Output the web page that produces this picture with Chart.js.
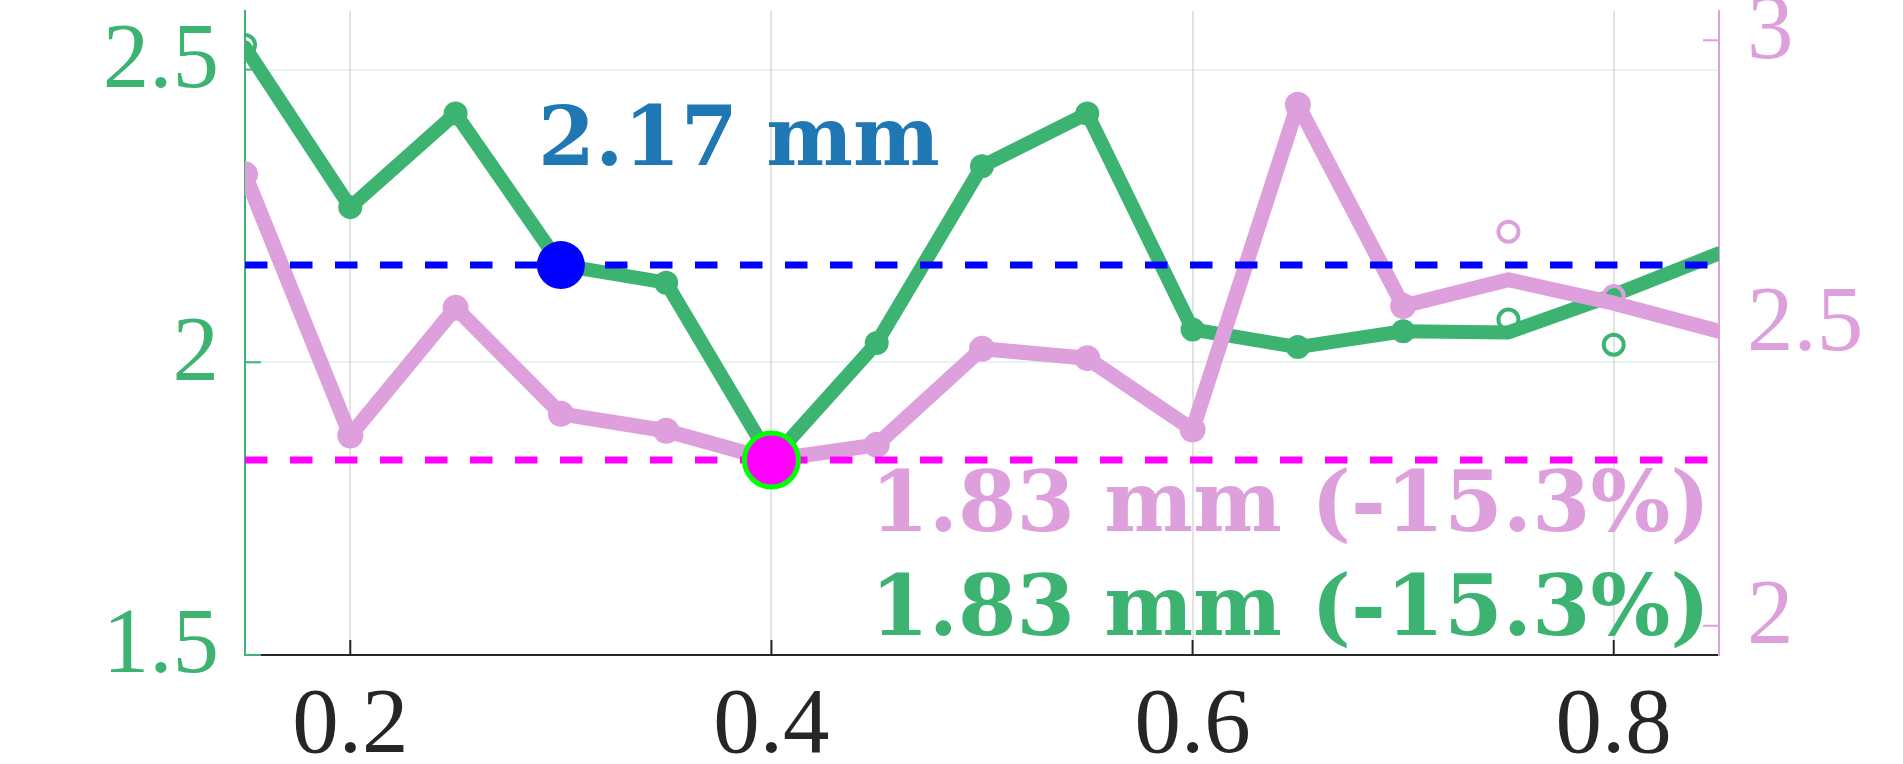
<!DOCTYPE html>
<html>
<head>
<meta charset="utf-8">
<script src="https://cdn.jsdelivr.net/npm/chart.js@4.4.1/dist/chart.umd.min.js"></script>
<style>
html,body{margin:0;padding:0;background:#fff;overflow:hidden}
#wrap{width:1903px;height:764px;position:relative}
canvas{display:block}
</style>
</head>
<body>
<div id="wrap"><canvas id="c" width="1903" height="764"></canvas></div>
<script>
// ---- data ----
const xValues     = [0.15, 0.20, 0.25, 0.30, 0.35, 0.40, 0.45, 0.50, 0.55, 0.60, 0.65, 0.70, 0.75, 0.80, 0.85];
const greenValues = [2.538, 2.265, 2.425, 2.166, 2.136, 1.833, 2.033, 2.335, 2.425, 2.056, 2.026, 2.053, 2.051, 2.115, 2.186];
const pinkValues  = [2.771, 2.325, 2.543, 2.362, 2.333, 2.283, 2.309, 2.473, 2.457, 2.335, 2.890, 2.546, 2.591, 2.551, 2.503];
const greenOpenX  = [0.15, 0.75, 0.80];
const greenOpenY  = [2.542, 2.073, 2.030];
const pinkOpenX   = [0.75, 0.80];
const pinkOpenY   = [2.673, 2.563];
const baselineX   = 0.30;
const baselineY   = 2.166;
const bestX       = 0.40;
const bestY       = 1.833;
const xTicks      = [0.2, 0.4, 0.6, 0.8];
const leftTicks   = [1.5, 2, 2.5];
const rightTicks  = [2, 2.5, 3];
const labelBaseline = '2.17 mm';
const labelPink     = '1.83 mm (-15.3%)';
const labelGreen    = '1.83 mm (-15.3%)';

const GREEN = '#3cb371', PINK = '#dda0dd', DARK = '#262626';
const xMin = 0.15, xMax = 0.85;

const toPts = (xs, ys) => xs.map((x, i) => ({x, y: ys[i]}));
const greenRadius = xValues.map((x, i) => (i >= 1 && i <= 11) ? 12 : 0);
const pinkRadius  = xValues.map((x, i) => (i <= 11) ? 13 : 0);

const tickFont = {family: '"Liberation Serif", serif', size: 93, lineHeight: 1};

const inwardTicks = {
  id: 'inwardTicks',
  beforeDatasetsDraw(chart) {
    const ctx = chart.ctx, a = chart.chartArea;
    const sx = chart.scales.x, sy = chart.scales.y, sy2 = chart.scales.y2;
    ctx.save();
    ctx.lineWidth = 2;
    ctx.strokeStyle = DARK;
    xTicks.forEach(v => { const p = sx.getPixelForValue(v); ctx.beginPath(); ctx.moveTo(p, a.bottom); ctx.lineTo(p, a.bottom - 15); ctx.stroke(); });
    ctx.strokeStyle = GREEN;
    leftTicks.forEach(v => { const p = sy.getPixelForValue(v); ctx.beginPath(); ctx.moveTo(a.left, p); ctx.lineTo(a.left + 16, p); ctx.stroke(); });
    ctx.strokeStyle = PINK;
    rightTicks.forEach(v => { const p = sy2.getPixelForValue(v); ctx.beginPath(); ctx.moveTo(a.right, p); ctx.lineTo(a.right - 16, p); ctx.stroke(); });
    ctx.restore();
  }
};

const texts = {
  id: 'texts',
  afterDatasetsDraw(chart) {
    const ctx = chart.ctx;
    ctx.save();
    ctx.textBaseline = 'alphabetic';
    ctx.font = 'bold 82px "DejaVu Serif", serif';
    ctx.textAlign = 'left';
    ctx.fillStyle = '#1f77b4';
    ctx.fillText(labelBaseline, 538, 165);
    ctx.font = 'bold 84px "DejaVu Serif", serif';
    ctx.textAlign = 'right';
    ctx.fillStyle = PINK;
    ctx.fillText(labelPink, 1710, 531);
    ctx.fillStyle = GREEN;
    ctx.fillText(labelGreen, 1710, 635);
    ctx.restore();
  }
};

function zeroPad(s) { s.paddingTop = 0; s.paddingBottom = 0; s.paddingLeft = 0; s.paddingRight = 0; }

new Chart(document.getElementById('c'), {
  type: 'line',
  data: {
    datasets: [
      { label: 'best', data: [{x: bestX, y: bestY}], yAxisID: 'y', showLine: false,
        pointRadius: 27, pointBackgroundColor: '#ff00ff', pointBorderColor: '#00ff00', pointBorderWidth: 5, order: 1 },
      { label: 'baseline', data: [{x: baselineX, y: baselineY}], yAxisID: 'y', showLine: false,
        pointRadius: 24, pointBackgroundColor: '#0000ff', pointBorderColor: '#0000ff', pointBorderWidth: 0, order: 2 },
      { label: 'baselineLine', data: [{x: xMin, y: baselineY}, {x: xMax, y: baselineY}], yAxisID: 'y',
        borderColor: '#0000ff', borderWidth: 7, borderDash: [22.5, 22.5], pointRadius: 0, order: 3 },
      { label: 'bestLine', data: [{x: xMin, y: bestY}, {x: xMax, y: bestY}], yAxisID: 'y',
        borderColor: '#ff00ff', borderWidth: 7, borderDash: [22.5, 22.5], pointRadius: 0, order: 3 },
      { label: 'greenOpen', data: toPts(greenOpenX, greenOpenY), yAxisID: 'y', showLine: false,
        pointRadius: 10, pointBackgroundColor: 'rgba(0,0,0,0)', pointBorderColor: GREEN, pointBorderWidth: 4, order: 4 },
      { label: 'pinkOpen', data: toPts(pinkOpenX, pinkOpenY), yAxisID: 'y2', showLine: false,
        pointRadius: 10, pointBackgroundColor: 'rgba(0,0,0,0)', pointBorderColor: PINK, pointBorderWidth: 4, order: 4 },
      { label: 'pink', data: toPts(xValues, pinkValues), yAxisID: 'y2',
        borderColor: PINK, borderWidth: 15, borderJoinStyle: 'round', borderCapStyle: 'round',
        pointRadius: pinkRadius, pointBackgroundColor: PINK, pointBorderWidth: 0, order: 5 },
      { label: 'green', data: toPts(xValues, greenValues), yAxisID: 'y',
        borderColor: GREEN, borderWidth: 14, borderJoinStyle: 'round', borderCapStyle: 'round',
        pointRadius: greenRadius, pointBackgroundColor: GREEN, pointBorderWidth: 0, order: 6 }
    ]
  },
  options: {
    responsive: false,
    animation: false,
    events: [],
    devicePixelRatio: 1,
    layout: { autoPadding: false, padding: { top: 11, left: 0, right: 0, bottom: 0 } },
    plugins: { legend: { display: false }, tooltip: { enabled: false } },
    scales: {
      x: {
        type: 'linear', min: xMin, max: xMax, position: 'bottom',
        afterBuildTicks: s => { s.ticks = xTicks.map(v => ({value: v})); },
        afterFit: s => { s.height = 109; zeroPad(s); },
        ticks: { font: tickFont, color: DARK, padding: 26, maxRotation: 0, autoSkip: false,
                 callback: v => String(v) },
        grid: { color: 'rgba(38,38,38,0.13)', lineWidth: 2, drawTicks: false },
        border: { color: DARK, width: 2 }
      },
      y: {
        type: 'linear', position: 'left', min: 1.5, max: 2.6,
        afterBuildTicks: s => { s.ticks = leftTicks.map(v => ({value: v})); },
        afterFit: s => { s.width = 245; zeroPad(s); },
        ticks: { font: tickFont, color: GREEN, padding: 26, labelOffset: -7, callback: v => String(v) },
        grid: { color: 'rgba(60,179,113,0.13)', lineWidth: 2, drawTicks: false },
        border: { color: GREEN, width: 2 }
      },
      y2: {
        type: 'linear', position: 'right', min: 1.95, max: 3.05,
        afterBuildTicks: s => { s.ticks = rightTicks.map(v => ({value: v})); },
        afterFit: s => { s.width = 184; zeroPad(s); },
        ticks: { font: tickFont, color: PINK, padding: 28, labelOffset: -7, callback: v => String(v) },
        grid: { display: false, drawTicks: false },
        border: { color: PINK, width: 2 }
      }
    }
  },
  plugins: [inwardTicks, texts]
});
</script>
</body>
</html>
